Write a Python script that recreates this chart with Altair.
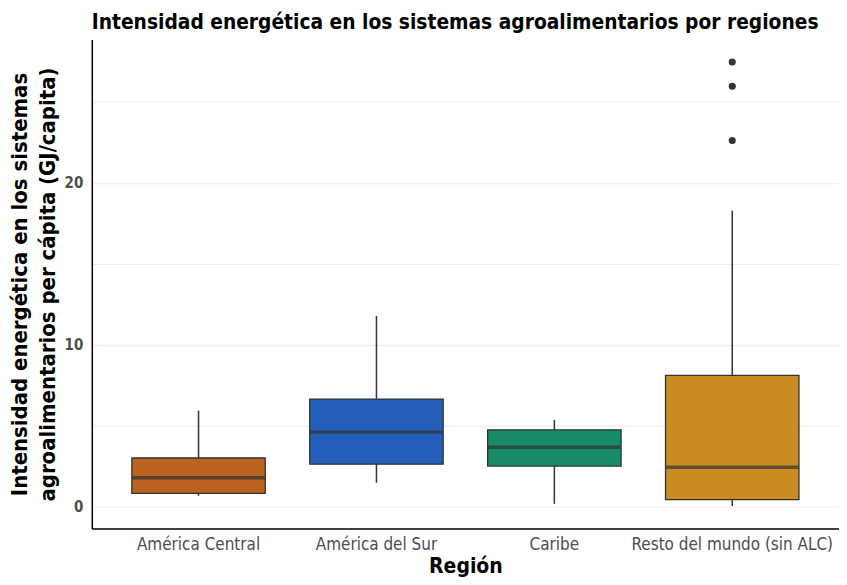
import altair as alt
import pandas as pd

regions = ["América Central", "América del Sur", "Caribe", "Resto del mundo (sin ALC)"]
colors = ["#BA621F", "#235FBA", "#178A68", "#C98B22"]
whisker_low = [0.67, 1.47, 0.17, 0.04]
q1 = [0.82, 2.62, 2.50, 0.43]
median = [1.78, 4.60, 3.66, 2.43]
q3 = [3.00, 6.64, 4.74, 8.10]
whisker_high = [5.92, 11.78, 5.36, 18.28]
outlier_regions = ["Resto del mundo (sin ALC)"] * 3
outlier_values = [27.47, 25.97, 22.62]

box = pd.DataFrame({"Region": regions, "lo": whisker_low, "q1": q1, "med": median,
                    "q3": q3, "hi": whisker_high})
out = pd.DataFrame({"Region": outlier_regions, "v": outlier_values})

FONT = "DejaVu Sans Condensed, DejaVu Sans, sans-serif"

xenc = alt.X("Region:N", sort=regions,
             scale=alt.Scale(paddingInner=0, paddingOuter=0.1),
             axis=alt.Axis(title="Región", labelAngle=0, ticks=False, grid=False,
                           labelColor="#4d4d4d", labelFontSize=17, labelPadding=8,
                           labelLimit=400,
                           titleFontSize=21, titleFontWeight="bold", titleColor="black",
                           titlePadding=3, domainColor="black", domainWidth=1.5))
yscale = alt.Scale(domain=[-1.35, 28.85], nice=False, zero=False)
yaxis = alt.Axis(title=["Intensidad energética en los sistemas",
                        "agroalimentarios per cápita (GJ/capita)"],
                 values=[0, 5, 10, 15, 20, 25],
                 labelExpr="datum.value % 10 == 0 ? datum.label : ''",
                 ticks=False, grid=True, gridColor="#ebebeb", gridWidth=1,
                 labelColor="#4d4d4d", labelFontSize=15, labelFontWeight="bold",
                 labelPadding=9, titleFontSize=22, titleFontWeight="bold",
                 titleColor="black", titlePadding=5, titleLineHeight=28,
                 domainColor="black", domainWidth=1.5)

base = alt.Chart(box)

whisk = base.mark_rule(color="#333333", strokeWidth=1.5).encode(
    x=xenc, y=alt.Y("lo:Q", scale=yscale, axis=yaxis), y2="hi:Q")

bars = base.mark_bar(width=alt.RelativeBandSize(0.75), stroke="#333333",
                     strokeWidth=1.3).encode(
    x=xenc, y=alt.Y("q1:Q", scale=yscale, axis=yaxis), y2="q3:Q",
    color=alt.Color("Region:N", sort=regions,
                    scale=alt.Scale(domain=regions, range=colors), legend=None))

med = base.mark_tick(color="#333333", thickness=3.5, size=133).encode(
    x=xenc, y=alt.Y("med:Q", scale=yscale, axis=yaxis))

pts = alt.Chart(out).mark_circle(color="#333333", size=50, opacity=1).encode(
    x=xenc, y=alt.Y("v:Q", scale=yscale, axis=yaxis))

chart = alt.layer(whisk, bars, med, pts).properties(
    width=833, height=569,
    autosize=alt.AutoSizeParams(type="fit", contains="padding"),
    title=alt.TitleParams("Intensidad energética en los sistemas agroalimentarios por regiones",
                          anchor="start", frame="group", fontSize=20.8, fontWeight="bold",
                          color="black", offset=6),
    padding={"left": 0, "top": 3, "right": 0, "bottom": 0},
).configure(font=FONT).configure_view(stroke=None)

chart.save("out.html", embed_options={"renderer": "svg", "actions": False})
